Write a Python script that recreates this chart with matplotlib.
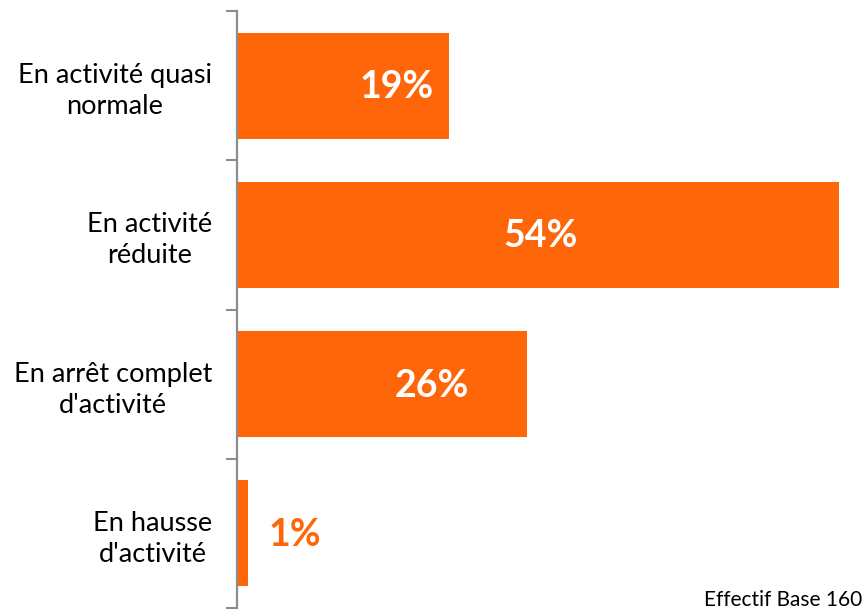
import matplotlib
matplotlib.use('Agg')
import matplotlib.pyplot as plt
import numpy as np

plt.rcParams['font.family'] = ['Lato', 'DejaVu Sans']

categories = ["En activité quasi\nnormale", "En activité\nréduite",
              "En arrêt complet\nd'activité", "En hausse\nd'activité"]
values = [19, 54, 26, 1]
# where each percentage label sits along the bar (in % units)
label_x = [14.3, 27.2, 17.5, 5.2]

orange = '#FF660A'

fig = plt.figure(figsize=(8.68, 6.15), dpi=100)
ax = fig.add_axes([237/868, 1 - 608/615, 1 - 237/868, (608 - 11)/615])

y = np.arange(len(categories))
ax.barh(y, values, height=0.71, color=orange)

for i, v in enumerate(values):
    inside = v > 5
    ax.text(label_x[i], y[i] + 0.01, f"{v}%", ha='center', va='center',
            fontsize=27, fontweight='bold',
            color='white' if inside else orange)

ax.set_xlim(0, (868 - 237) / 11.15)
ax.set_ylim(len(categories) - 0.5, -0.5)

ax.set_yticks(y)
ax.set_yticklabels(categories, fontsize=19.5, multialignment='center', linespacing=1.3)
ax.set_yticks(np.arange(len(categories) + 1) - 0.5, minor=True)
ax.tick_params(axis='y', which='major', length=0, pad=18)
ax.tick_params(axis='y', which='minor', length=8, width=1.5, color='#8c8c8c')
ax.set_xticks([])

for s in ['top', 'right', 'bottom']:
    ax.spines[s].set_visible(False)
ax.spines['left'].set_color('#8c8c8c')
ax.spines['left'].set_linewidth(1.6)

fig.text(862/868, 1 - 606/615, "Effectif Base 160", ha='right', va='baseline', fontsize=15)

fig.savefig('out.png', dpi=100)
